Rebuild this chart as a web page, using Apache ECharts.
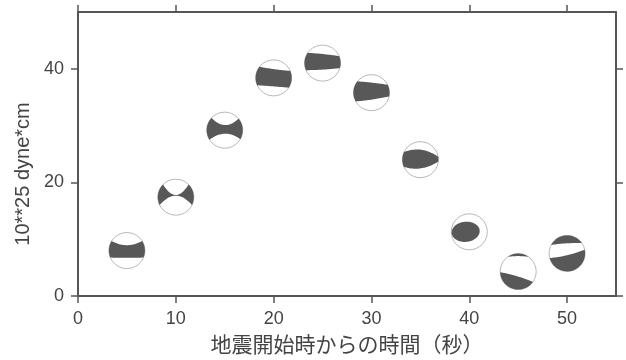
<!DOCTYPE html>
<html><head><meta charset="utf-8">
<script src="https://cdn.jsdelivr.net/npm/echarts@6/dist/echarts.min.js"></script>
<style>html,body{margin:0;padding:0;background:#fff}#c{width:626px;height:360px}</style>
</head><body><div id="c"></div>
<script>
// time since earthquake start (s)
const times = [5, 10, 15, 20, 25, 30, 35, 40, 45, 50];
// moment (10**25 dyne*cm)
const moments = [8.0, 17.4, 29.2, 38.4, 41.0, 35.8, 24.0, 11.3, 4.3, 7.5];
const xTicks = [0, 10, 20, 30, 40, 50];
const yTicks = [0, 20, 40];
// focal mechanism glyph shapes (unit circle): t = upper boundary [angL, angR, midY], b = lower boundary, e = ellipse
const mechanisms = [
  [{t:[148,32,0.3], b:[203,337,-0.4]}],
  [{t:[135,45,0.12], b:[206,334,0.08]}],
  [{t:[137,40,0.28], b:[212,330,-0.2]}],
  [{t:[142,23,0.48], b:[204,327,-0.47]}],
  [{t:[145,23,0.5], b:[203,344,-0.36]}],
  [{t:[141,26,0.55], b:[209,348,-0.38]}],
  [{t:[155,10,0.55], b:[203,354,-0.48]}],
  [{e:[-0.2,0.0,0.78,0.56,6]}],
  [{b:[125,55,0.86]}, {t:[182,325,-0.25]}],
  [{b:[152,35,0.56]}, {t:[195,12,-0.1]}]
];

const R = 18;
function onCircle(a){ const r = a*Math.PI/180; return [Math.cos(r), Math.sin(r)]; }
function curvePts(s, reverse){
  const p0 = onCircle(s[0]), p2 = onCircle(s[1]);
  const c = [(p0[0]+p2[0])/2, 2*s[2] - (p0[1]+p2[1])/2];
  const out = [];
  for (let i=0;i<=24;i++){
    const t = i/24;
    const u = (1-t)*(1-t), v = 2*t*(1-t), w = t*t;
    out.push([u*p0[0]+v*c[0]+w*p2[0], u*p0[1]+v*c[1]+w*p2[1]]);
  }
  return reverse ? out.reverse() : out;
}
// clockwise arc from a0 down to a1
function arcPts(a0, a1){
  while (a1 >= a0) a1 -= 360;
  while (a0 - a1 > 360) a1 += 360;
  const out = [], n = 30;
  for (let i=0;i<=n;i++) out.push(onCircle(a0 + (a1-a0)*i/n));
  return out;
}
function regionPts(r){
  if (r.e){
    const [cx,cy,rx,ry,rot] = r.e, th = rot*Math.PI/180, out=[];
    for (let i=0;i<60;i++){
      const a = i/60*2*Math.PI, x = rx*Math.cos(a), y = ry*Math.sin(a);
      out.push([cx + x*Math.cos(th) - y*Math.sin(th), cy + x*Math.sin(th) + y*Math.cos(th)]);
    }
    return out;
  }
  if (r.t && r.b){
    return [].concat(curvePts(r.t,false), arcPts(r.t[1], r.b[1]), curvePts(r.b,true), arcPts(r.b[0], r.t[0]));
  }
  if (r.b){
    return [].concat(arcPts(r.b[0], r.b[1]), curvePts(r.b,true));
  }
  return [].concat(curvePts(r.t,false), arcPts(r.t[1], r.t[0]));
}

const chart = echarts.init(document.getElementById('c'), null, {renderer:'canvas'});
const axisColor = '#555';
const textColor = '#444';
chart.setOption({
  backgroundColor: '#fff',
  animation: false,
  grid: {left: 78, right: 10, top: 12, bottom: 62, containLabel: false},
  xAxis: [{
    type: 'value', min: 0, max: 55, interval: 10, position: 'bottom',
    name: '地震開始時からの時間（秒）', nameLocation: 'middle', nameGap: 38,
    nameTextStyle: {fontSize: 21, color: textColor, fontFamily: 'Noto Sans CJK JP'},
    axisLine: {show: true, onZero: false, lineStyle: {color: axisColor, width: 2}},
    axisTick: {show: true, length: 7, lineStyle: {color: axisColor, width: 1.5}, customValues: xTicks},
    axisLabel: {fontSize: 18, color: textColor, margin: 14, fontFamily: 'Liberation Sans', customValues: xTicks},
    splitLine: {show: false}
  }, {
    type: 'value', min: 0, max: 55, interval: 10, position: 'top',
    axisLine: {show: true, onZero: false, lineStyle: {color: axisColor, width: 2}},
    axisTick: {show: true, length: 7, lineStyle: {color: axisColor, width: 1.5}, customValues: xTicks},
    axisLabel: {show: false}, splitLine: {show: false}
  }],
  yAxis: [{
    type: 'value', min: 0, max: 50, interval: 20, position: 'left',
    name: '10**25 dyne*cm', nameLocation: 'middle', nameGap: 45, nameRotate: 90,
    nameTextStyle: {fontSize: 20, color: textColor, fontFamily: 'Liberation Sans', padding: [0, 40, 0, 0]},
    axisLine: {show: true, onZero: false, lineStyle: {color: axisColor, width: 2}},
    axisTick: {show: true, length: 7, lineStyle: {color: axisColor, width: 1.5}, customValues: yTicks},
    axisLabel: {fontSize: 18, color: textColor, margin: 14, fontFamily: 'Liberation Sans', customValues: yTicks},
    splitLine: {show: false}
  }, {
    type: 'value', min: 0, max: 50, interval: 20, position: 'right',
    axisLine: {show: true, onZero: false, lineStyle: {color: axisColor, width: 2}},
    axisTick: {show: true, length: 7, lineStyle: {color: axisColor, width: 1.5}, customValues: yTicks},
    axisLabel: {show: false}, splitLine: {show: false}
  }],
  series: [{
    type: 'custom',
    xAxisIndex: 0, yAxisIndex: 0,
    data: times.map((t, i) => [t, moments[i]]),
    renderItem: function(params, api){
      const c = api.coord([api.value(0), api.value(1)]);
      const children = [{
        type: 'circle', shape: {cx: c[0], cy: c[1], r: R},
        style: {fill: '#fff', stroke: '#b8b8b8', lineWidth: 1}
      }];
      mechanisms[params.dataIndex].forEach(function(reg){
        const pts = regionPts(reg).map(p => [c[0] + p[0]*R, c[1] - p[1]*R]);
        children.push({type: 'polygon', shape: {points: pts}, style: {fill: '#585858'}});
      });
      return {type: 'group', children: children};
    }
  }]
});
</script></body></html>
